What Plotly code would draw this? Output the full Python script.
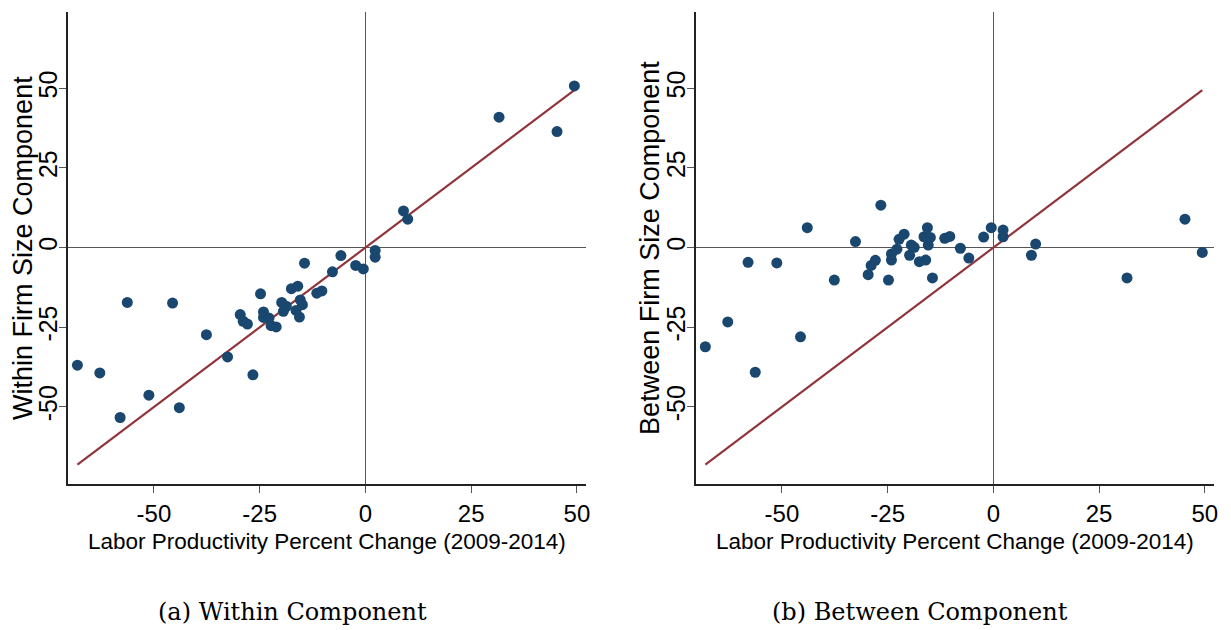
import plotly.graph_objects as go

# Data (one point per unit, both panels share x)
labor_prod_change = [-68.1, -62.8, -58.0, -56.3, -51.2, -45.6, -44.0, -37.6, -32.6, -29.6,
                     -28.9, -27.9, -26.6, -24.8, -24.1, -24.1, -22.8, -22.3, -21.1, -19.8,
                     -19.4, -18.7, -17.5, -16.4, -16.0, -15.6, -15.4, -14.9, -14.4, -11.5,
                     -10.3, -7.8, -5.8, -2.3, -0.5, 2.3, 2.3, 9.0, 10.0, 31.6, 45.3, 49.4]
within_component = [-36.9, -39.3, -53.3, -17.2, -46.3, -17.4, -50.2, -27.3, -34.3, -21.0,
                    -23.1, -24.0, -39.9, -14.5, -20.2, -21.9, -22.1, -24.5, -24.9, -17.2,
                    -20.0, -18.4, -12.9, -19.7, -12.1, -21.8, -16.4, -17.9, -4.9, -14.3,
                    -13.6, -7.6, -2.5, -5.6, -6.7, -0.9, -3.0, 11.5, 8.9, 40.9, 36.4, 50.7]
between_component = [-31.1, -23.3, -4.6, -39.1, -4.8, -28.0, 6.25, -10.2, 1.9, -8.5,
                     -5.6, -4.0, 13.3, -10.2, -3.9, -2.0, -0.5, 2.6, 4.2, -2.4,
                     0.8, 0.1, -4.4, 3.4, -3.9, 6.25, 0.8, 3.2, -9.5, 2.9,
                     3.5, -0.2, -3.3, 3.3, 6.25, 3.4, 5.5, -2.4, 1.1, -9.5, 8.9, -1.5]
# 45-degree reference line endpoints
line_x = [-68.1, 49.4]
line_y = [-68.1, 49.4]

tick_vals = [-50, -25, 0, 25, 50]
tick_text = ["-50", "-25", "0", "25", "50"]

y_titles = ["Within Firm Size Component", "Between Firm Size Component"]
x_title = "Labor Productivity Percent Change (2009-2014)"
captions = ["(a) Within Component", "(b) Between Component"]

NAVY = "#1a476f"
MAROON = "#90353b"
OFF = 8  # page body margin in the browser
W, H = 1231 - OFF, 630 - OFF

def px_x(v):
    return (v - OFF) / W

def px_y(v):
    return 1 - (v - OFF) / H

fig = go.Figure()
for i, yv in enumerate([within_component, between_component]):
    xa = "x" if i == 0 else "x2"
    ya = "y" if i == 0 else "y2"
    fig.add_trace(go.Scatter(x=line_x, y=line_y, mode="lines",
                             line=dict(color=MAROON, width=2.2),
                             xaxis=xa, yaxis=ya, hoverinfo="skip"))
    fig.add_trace(go.Scatter(x=labor_prod_change, y=yv, mode="markers",
                             marker=dict(color=NAVY, size=11, line=dict(width=0)),
                             xaxis=xa, yaxis=ya))

px_left = [68.3, 698.3]
px_right = [588.3, 1218.3]
top_px, bot_px = 11.7, 484.3
ydom = [px_y(bot_px), px_y(top_px)]

xfont = dict(family="Liberation Sans, Arial", size=24, color="black")
yfont = dict(family="Liberation Sans, Arial", size=25, color="black")

for i in range(2):
    xk = "xaxis" if i == 0 else "xaxis2"
    yk = "yaxis" if i == 0 else "yaxis2"
    fig.layout[xk] = dict(
        domain=[px_x(px_left[i]), px_x(px_right[i])], range=[-70.3, 52.25],
        anchor="y" if i == 0 else "y2",
        tickvals=tick_vals, ticktext=tick_text, ticks="outside", ticklen=7,
        tickcolor="#555", tickwidth=1.2, showline=True, linecolor="#222", linewidth=1.5,
        showgrid=False, zeroline=True, zerolinecolor="#555", zerolinewidth=1.2,
        tickfont=xfont, fixedrange=True)
    fig.layout[yk] = dict(
        domain=ydom, range=[-74.25, 74.0],
        anchor="x" if i == 0 else "x2",
        tickvals=tick_vals, ticktext=tick_text, ticks="outside", ticklen=7,
        tickcolor="#555", tickwidth=1.2, tickangle=-90, ticklabelstandoff=-8,
        showline=True, linecolor="#222", linewidth=1.5,
        showgrid=False, zeroline=True, zerolinecolor="#555", zerolinewidth=1.2,
        tickfont=yfont, fixedrange=True)

annotations = []
ytitle_x = [23, 652]
xtitle_x = [328.3, 958.3]
caption_x = [293, 923]
for i in range(2):
    annotations.append(dict(text=y_titles[i], xref="paper", yref="paper",
                            x=px_x(ytitle_x[i]), y=px_y(248), textangle=-90,
                            showarrow=False, xanchor="center", yanchor="middle",
                            font=dict(family="Liberation Sans, Arial", size=27, color="black")))
    annotations.append(dict(text=x_title, xref="paper", yref="paper",
                            x=px_x(xtitle_x[i]), y=px_y(541), showarrow=False,
                            xanchor="center", yanchor="middle",
                            font=dict(family="Liberation Sans, Arial", size=22.5, color="black")))
    annotations.append(dict(text=captions[i], xref="paper", yref="paper",
                            x=px_x(caption_x[i]), y=px_y(612), showarrow=False,
                            xanchor="center", yanchor="middle",
                            font=dict(family="DejaVu Serif, Liberation Serif", size=24, color="black")))

fig.update_layout(width=W, height=H, margin=dict(l=0, r=0, t=0, b=0),
                  paper_bgcolor="white", plot_bgcolor="white", showlegend=False,
                  annotations=annotations)

fig.write_html("out.html")
